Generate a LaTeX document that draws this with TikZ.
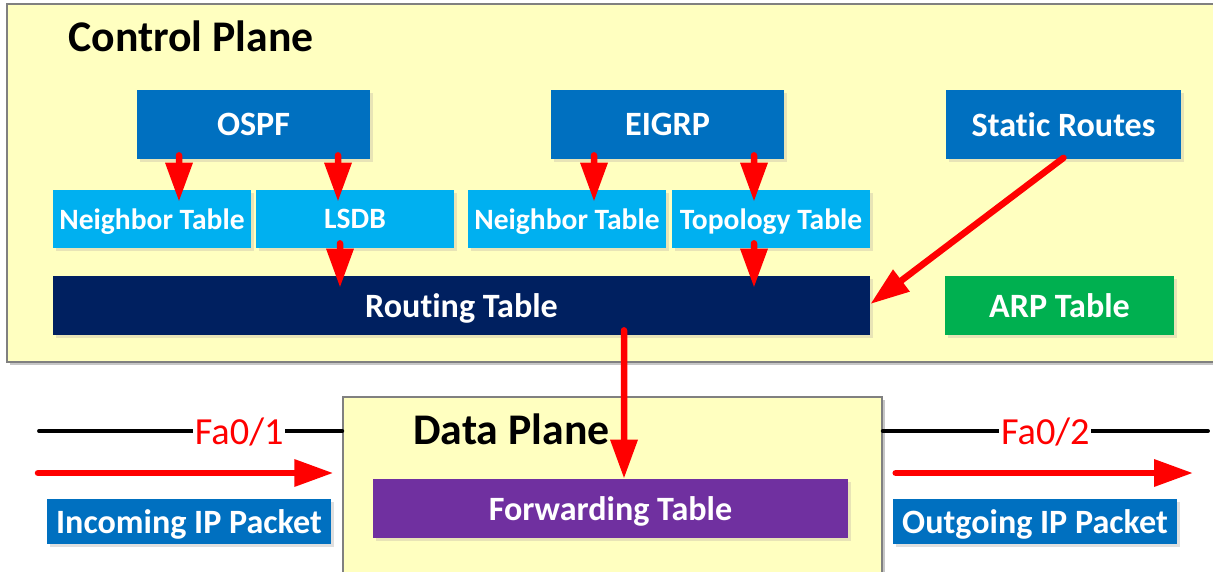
\documentclass[tikz,border=0pt]{standalone}
\usepackage{fontspec}
\setmainfont{Carlito}[Ligatures=NoCommon]
\definecolor{planeyellow}{RGB}{255,255,192}
\definecolor{protoblue}{RGB}{0,112,192}
\definecolor{tableblue}{RGB}{0,176,240}
\definecolor{ribnavy}{RGB}{0,32,96}
\definecolor{arpgreen}{RGB}{0,176,80}
\definecolor{fibpurple}{RGB}{112,48,160}
\definecolor{khakishadow}{RGB}{232,228,182}
\usepackage{tikz}
\usetikzlibrary{arrows.meta,positioning,calc,shadows}

\begin{document}
\begin{tikzpicture}[
  plane/.style={rectangle, draw=gray, line width=0.8pt, fill=planeyellow, drop shadow={shadow xshift=0.05cm, shadow yshift=-0.06cm, fill=gray!45, opacity=1}},
  planetitle/.style={anchor=base west, font=\fontsize{24.9}{28}\selectfont\bfseries, inner sep=0pt},
  box/.style={rectangle, inner sep=0pt, text depth=0pt, text=white, font=\fontsize{19.4}{22}\selectfont\bfseries, drop shadow={shadow xshift=0.06cm, shadow yshift=-0.06cm, fill=khakishadow, opacity=1}},
  proto/.style={box, fill=protoblue, minimum height=1.38cm},
  subtable/.style={box, fill=tableblue, minimum width=3.96cm, minimum height=1.16cm, font=\fontsize{16.8}{19}\selectfont\bfseries},
  packet/.style={box, fill=protoblue, minimum width=5.68cm, minimum height=0.9cm, drop shadow={shadow xshift=0.06cm, shadow yshift=-0.06cm, fill=gray!25, opacity=1}},
  redarrow/.style={-{Triangle[length=0.78cm, width=0.52cm]}, red, line width=0.13cm, line cap=round},
  wire/.style={black, line width=2.2pt, line cap=round},
  portlabel/.style={fill=white, text=red, inner sep=1pt, text depth=0pt, font=\fontsize{21.8}{24}\selectfont},
]
\clip (0,0) rectangle (24.26,11.42);

% Control Plane
\node[plane, minimum width=24.26cm, minimum height=7.16cm] (ctrl) at (12.27,7.76) {};
\node[planetitle] (ctrltitle) at (1.36,10.38) {Control Plane};

% Data Plane
\node[plane, minimum width=10.78cm, minimum height=3.68cm] (dp) at (12.25,1.64) {};
\node[planetitle] (dptitle) at (8.26,2.54) {Data Plane};

% Routing protocols
\node[proto, minimum width=4.66cm] (ospf) at (5.07,8.93) {OSPF};
\node[proto, minimum width=4.66cm] (eigrp) at (13.35,8.93) {EIGRP};
\node[proto, minimum width=4.70cm] (static) at (21.27,8.93) {Static Routes};

% Protocol tables
\node[subtable] (nbrospf) at (3.04,7.04) {Neighbor Table};
\node[subtable] (lsdb) at (7.10,7.04) {LSDB};
\node[subtable] (nbreigrp) at (11.34,7.04) {Neighbor Table};
\node[subtable] (topo) at (15.42,7.04) {Topology Table};

% RIB and ARP
\node[box, fill=ribnavy, minimum width=16.34cm, minimum height=1.18cm] (rib) at (9.23,5.31) {Routing Table};
\node[box, fill=arpgreen, minimum width=4.58cm, minimum height=1.18cm] (arp) at (21.19,5.31) {ARP Table};

% FIB
\node[box, fill=fibpurple, minimum width=9.5cm, minimum height=1.18cm] (fib) at (12.21,1.25) {Forwarding Table};

% Packets
\node[packet] (inpkt) at (3.78,0.99) {Incoming IP Packet};
\node[packet] (outpkt) at (20.70,0.99) {Outgoing IP Packet};

% Interfaces
\coordinate (wireA) at (0.78,2.80);
\coordinate (wireB) at (24.16,2.80);
\draw[wire] (wireA) -- (wireA -| dp.west) node[portlabel, pos=0.66] (fa1) {Fa0/1};
\draw[wire] (wireB -| dp.east) -- (wireB) node[portlabel, pos=0.5] (fa2) {Fa0/2};

% Arrows
\draw[redarrow] ([xshift=-1.49cm, yshift=0.08cm]ospf.south) -- ([xshift=0.54cm, yshift=-0.24cm]nbrospf.north);
\draw[redarrow] ([xshift=1.69cm, yshift=0.08cm]ospf.south) -- ([xshift=-0.34cm, yshift=-0.24cm]lsdb.north);
\draw[redarrow] ([xshift=-0.30cm, yshift=0.10cm]lsdb.south) -- ([xshift=-2.43cm, yshift=-0.24cm]rib.north);
\draw[redarrow] ([xshift=-1.47cm, yshift=0.08cm]eigrp.south) -- ([xshift=0.54cm, yshift=-0.24cm]nbreigrp.north);
\draw[redarrow] ([xshift=1.73cm, yshift=0.08cm]eigrp.south) -- ([xshift=-0.34cm, yshift=-0.24cm]topo.north);
\draw[redarrow] ([xshift=-0.34cm, yshift=0.10cm]topo.south) -- ([xshift=5.85cm, yshift=-0.24cm]rib.north);
\draw[redarrow] ([yshift=0.03cm]static.south) -- ([yshift=0.03cm]rib.east);
\draw[redarrow] ([xshift=3.25cm, yshift=0.10cm]rib.south) -- ([xshift=0.27cm]fib.north);
\coordinate (inA) at (0.76,1.96);
\coordinate (outB) at (23.86,1.96);
\draw[redarrow] (inA) -- ([xshift=-0.18cm]inA -| dp.west);
\draw[redarrow] ([xshift=0.26cm]outB -| dp.east) -- (outB);

\end{tikzpicture}
\end{document}
